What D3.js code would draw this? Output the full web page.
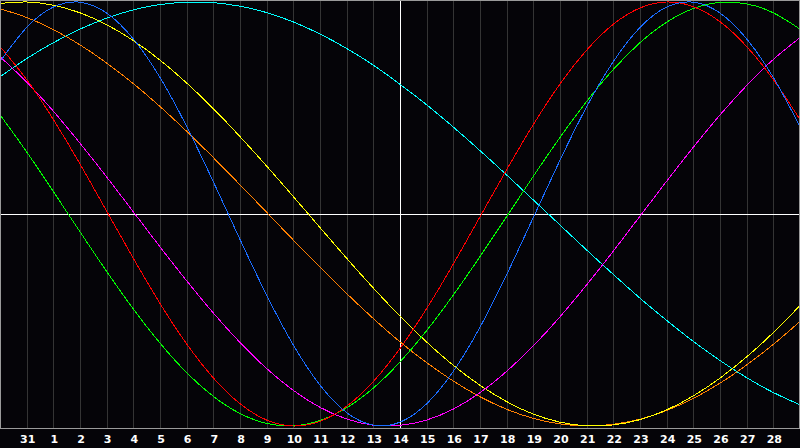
<!DOCTYPE html>
<html>
<head>
<meta charset="utf-8">
<script src="https://cdn.jsdelivr.net/npm/d3@7"></script>
<style>
  html, body { margin: 0; padding: 0; background: #050408; }
  svg { display: block; }
</style>
</head>
<body>
<svg></svg>
<script>
// day index 0..30 along the x axis, labels shown on grid lines 1..29
const dayIndex = d3.range(0, 31);
const dayLabels = ["31", "1", "2", "3", "4", "5", "6", "7", "8", "9", "10", "11", "12", "13", "14",
    "15", "16", "17", "18", "19", "20", "21", "22", "23", "24", "25", "26", "27", "28"];
const todayIndex = 15;

// cycles: name, length (days), colour
const cycleNames = ["Spiritual", "Aesthetic", "Awareness", "Intuitive", "Intellectual", "Emotional", "Physical"];
const cycleColors = ["#00ffff", "#ff8000", "#ffff00", "#ff00ff", "#00ff00", "#ff0000", "#1a6cff"];

// values read per day (index 0..30)
const spiritual = [0.647, 0.733, 0.808, 0.872, 0.924, 0.963, 0.988, 0.999, 0.997, 0.980, 0.950, 0.906, 0.849,
    0.781, 0.702, 0.612, 0.515, 0.410, 0.299, 0.184, 0.066, -0.052, -0.170, -0.285, -0.397, -0.502, -0.601,
    -0.691, -0.772, -0.842, -0.900];
const awareness = [0.968, 0.927, 0.870, 0.798, 0.712, 0.615, 0.507, 0.390, 0.266, 0.138, 0.008, -0.123, -0.251,
    -0.375, -0.493, -0.603, -0.701, -0.788, -0.862, -0.921, -0.964, -0.990, -1.000, -0.992, -0.968, -0.927,
    -0.870, -0.798, -0.712, -0.615, -0.507];
const aesthetic = [0.993, 1.000, 0.985, 0.949, 0.893, 0.818, 0.726, 0.618, 0.497, 0.365, 0.226, 0.082, -0.064,
    -0.209, -0.349, -0.482, -0.604, -0.714, -0.808, -0.885, -0.944, -0.982, -0.999, -0.995, -0.970, -0.924,
    -0.858, -0.774, -0.674, -0.559, -0.432];
const intuitive = [0.742, 0.622, 0.485, 0.334, 0.175, 0.010, -0.155, -0.315, -0.467, -0.606, -0.729, -0.832,
    -0.912, -0.967, -0.996, -0.997, -0.972, -0.920, -0.843, -0.742, -0.622, -0.485, -0.334, -0.175, -0.010,
    0.155, 0.315, 0.467, 0.606, 0.729, 0.832];
const intellectual = [0.468, 0.293, 0.106, -0.084, -0.271, -0.448, -0.609, -0.748, -0.860, -0.941, -0.988,
    -0.999, -0.974, -0.914, -0.821, -0.698, -0.550, -0.382, -0.201, -0.012, 0.178, 0.361, 0.531, 0.682, 0.808,
    0.905, 0.969, 0.998, 0.991, 0.949, 0.872];
const emotional = [0.790, 0.634, 0.446, 0.236, 0.013, -0.209, -0.422, -0.613, -0.773, -0.895, -0.972, -1.000,
    -0.978, -0.907, -0.790, -0.634, -0.446, -0.236, -0.013, 0.209, 0.422, 0.613, 0.773, 0.895, 0.972, 1.000,
    0.978, 0.907, 0.790, 0.634, 0.446];
const physical = [0.719, 0.880, 0.976, 0.999, 0.948, 0.826, 0.644, 0.413, 0.152, -0.120, -0.383, -0.618,
    -0.807, -0.937, -0.996, -0.982, -0.895, -0.742, -0.534, -0.286, -0.016, 0.254, 0.506, 0.719, 0.880, 0.976,
    0.999, 0.948, 0.826, 0.644, 0.413];

function main() {
    const width = 800;
    const height = 448;
    const plotBottom = 428;

    const series = [spiritual, awareness, aesthetic, intuitive, intellectual, emotional, physical];

    const xScale = d3.scaleLinear().domain([0, 30]).range([0, width]);
    const yScale = d3.scaleLinear().domain([-1, 1]).range([426, 2]);

    const svg = d3.select("svg")
        .attr("width", width)
        .attr("height", height);

    svg.append("rect")
        .attr("width", width)
        .attr("height", height)
        .attr("fill", "#050408");

    // grid lines
    svg.append("g")
        .selectAll("line")
        .data(d3.range(1, 30))
        .enter()
        .append("line")
        .attr("x1", d => Math.round(xScale(d)) + 0.5)
        .attr("x2", d => Math.round(xScale(d)) + 0.5)
        .attr("y1", 0)
        .attr("y2", plotBottom)
        .attr("stroke", "#343434")
        .attr("shape-rendering", "crispEdges");

    // centre lines
    svg.append("line")
        .attr("x1", 0).attr("x2", width)
        .attr("y1", Math.round(yScale(0)) + 0.5).attr("y2", Math.round(yScale(0)) + 0.5)
        .attr("stroke", "#ffffff")
        .attr("shape-rendering", "crispEdges");
    svg.append("line")
        .attr("x1", Math.round(xScale(todayIndex)) + 0.5).attr("x2", Math.round(xScale(todayIndex)) + 0.5)
        .attr("y1", 0).attr("y2", plotBottom)
        .attr("stroke", "#ffffff")
        .attr("shape-rendering", "crispEdges");

    const line = d3.line()
        .x((d, i) => xScale(dayIndex[i]))
        .y(d => yScale(d))
        .curve(d3.curveNatural);

    svg.append("g")
        .selectAll("path")
        .data(series)
        .enter()
        .append("path")
        .attr("class", (d, i) => cycleNames[i])
        .attr("d", line)
        .attr("fill", "none")
        .attr("stroke", (d, i) => cycleColors[i])
        .attr("stroke-width", 1)
        .attr("shape-rendering", "crispEdges");

    // frame
    svg.append("rect")
        .attr("x", 0.5)
        .attr("y", 0.5)
        .attr("width", width - 1)
        .attr("height", plotBottom - 0.5)
        .attr("fill", "none")
        .attr("stroke", "#9a9a9a")
        .attr("shape-rendering", "crispEdges");

    svg.append("g")
        .selectAll("text")
        .data(dayLabels)
        .enter()
        .append("text")
        .attr("x", (d, i) => xScale(i + 1) + 1)
        .attr("y", 443)
        .attr("text-anchor", "middle")
        .attr("fill", "#ffffff")
        .attr("font-family", "DejaVu Sans")
        .attr("font-weight", "bold")
        .attr("font-size", "11px")
        .text(d => d);
}

main();
</script>
</body>
</html>
